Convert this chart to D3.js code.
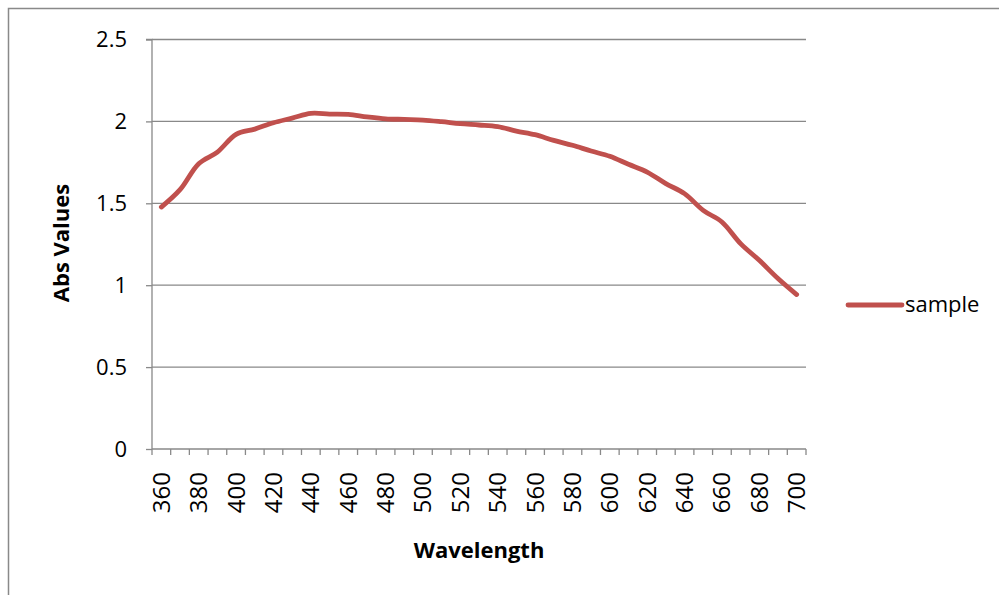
<!DOCTYPE html>
<html><head><meta charset="utf-8">
<script src="https://cdn.jsdelivr.net/npm/d3@7"></script>
<style>body{margin:0;background:#fff}svg{display:block}text{font-family:"Open Sans",Lato,sans-serif}</style>
</head><body><svg id="c" width="999" height="595"></svg>
<script>
const wavelengths = [360,370,380,390,400,410,420,430,440,450,460,470,480,490,500,510,520,530,540,550,560,570,580,590,600,610,620,630,640,650,660,670,680,690,700];
const sampleValues = [1.477,1.583,1.742,1.813,1.921,1.953,1.992,2.02,2.049,2.045,2.043,2.028,2.016,2.012,2.008,1.998,1.986,1.978,1.968,1.941,1.919,1.884,1.854,1.819,1.787,1.738,1.691,1.62,1.559,1.457,1.386,1.254,1.152,1.041,0.943];
const yTicks = [0,0.5,1,1.5,2,2.5];
const xTickLabels = [360,380,400,420,440,460,480,500,520,540,560,580,600,620,640,660,680,700];
const seriesName = "sample";
const yTitle = "Abs Values", xTitle = "Wavelength";

const svg = d3.select("#c");
const L = 152, R = 806, T = 39.5, B = 449;
const gray = "#898989", red = "#C0504D";
const FS = 22, FX = 24;

svg.append("rect").attr("x",8.5).attr("y",8.5).attr("width",1100).attr("height",1100)
  .attr("fill","none").attr("stroke",gray).attr("stroke-width",1.5);

const x = d3.scaleBand().domain(wavelengths).range([L,R]).padding(0);
const y = d3.scaleLinear().domain([0,2.5]).range([B,T]);

svg.append("g").selectAll("line").data(yTicks.filter(d=>d>0)).join("line")
  .attr("x1",L).attr("x2",R).attr("y1",d=>y(d)).attr("y2",d=>y(d))
  .attr("stroke",gray).attr("stroke-width",1.3);

const ya = svg.append("g").attr("transform",`translate(${L},0)`)
  .call(d3.axisLeft(y).tickValues(yTicks).tickSize(6).tickPadding(19).tickFormat(d3.format("")));
ya.select(".domain").attr("stroke",gray).attr("stroke-width",1.3).attr("d",`M-6,${T}H0V${B}`);
ya.selectAll(".tick line").attr("stroke",gray).attr("stroke-width",1.3);
ya.selectAll(".tick text").attr("font-size",FS).attr("fill","#000").attr("font-family","'Open Sans',Lato,sans-serif");

const xa = svg.append("g").attr("transform",`translate(0,${B})`);
xa.append("line").attr("x1",L).attr("x2",R).attr("y1",0).attr("y2",0).attr("stroke",gray).attr("stroke-width",1.3);
const boundaries = wavelengths.map(w=>x(w)).concat([R]);
xa.selectAll("line.t").data(boundaries).join("line").attr("class","t")
  .attr("x1",d=>d).attr("x2",d=>d).attr("y1",0).attr("y2",6).attr("stroke",gray).attr("stroke-width",1.3);
xa.selectAll("text.l").data(xTickLabels).join("text").attr("class","l")
  .attr("transform",d=>`translate(${x(d)+x.bandwidth()/2+8.5},23) rotate(-90)`)
  .attr("text-anchor","end").attr("font-size",FX).attr("fill","#000").text(d=>d);

const line = d3.line().x((d,i)=>x(wavelengths[i])+x.bandwidth()/2).y(d=>y(d)).curve(d3.curveCatmullRom.alpha(0.5));
svg.append("path").datum(sampleValues).attr("d",line).attr("fill","none")
  .attr("stroke",red).attr("stroke-width",4.8).attr("stroke-linecap","round").attr("stroke-linejoin","round");

svg.append("text").attr("transform",`translate(69,${243}) rotate(-90)`).attr("text-anchor","middle")
  .attr("font-size",FS).attr("font-weight","bold").text(yTitle);
svg.append("text").attr("x",479).attr("y",558).attr("text-anchor","middle")
  .attr("font-size",FS).attr("font-weight","bold").text(xTitle);

svg.append("line").attr("x1",848).attr("x2",902).attr("y1",305).attr("y2",305)
  .attr("stroke",red).attr("stroke-width",4.8).attr("stroke-linecap","round");
svg.append("text").attr("x",905).attr("y",312).attr("font-size",FS).text(seriesName);
</script></body></html>
